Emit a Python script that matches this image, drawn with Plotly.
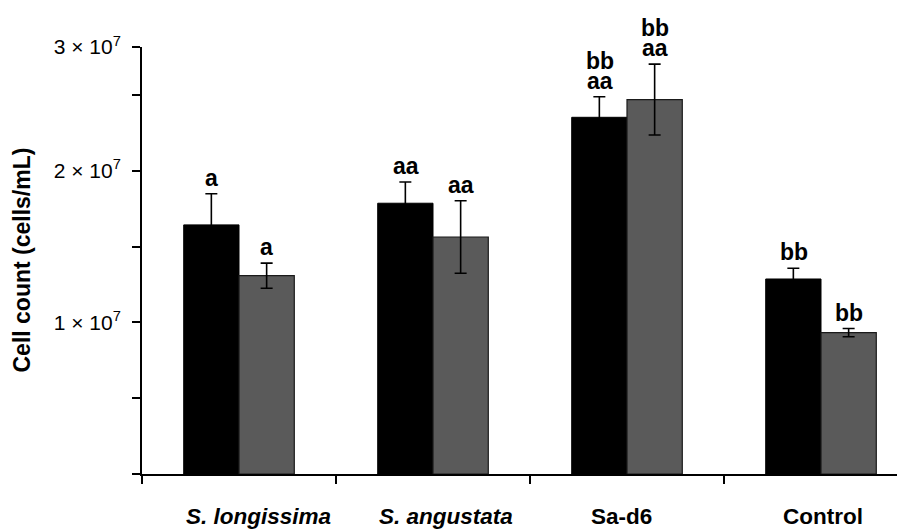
import plotly.graph_objects as go

categories = ["S. longissima", "S. angustata", "Sa-d6", "Control"]
cat_labels = ["<i>S. longissima</i>", "<i>S. angustata</i>", "Sa-d6", "Control"]
series1_vals = [16.44e6, 17.87e6, 23.54e6, 12.87e6]
series1_err = [2.06e6, 1.40e6, 1.36e6, 0.71e6]
series2_vals = [13.09e6, 15.64e6, 24.71e6, 9.33e6]
series2_err = [0.83e6, 2.39e6, 2.34e6, 0.27e6]
series1_marks = [["a"], ["aa"], ["aa", "bb"], ["bb"]]
series2_marks = [["a"], ["aa"], ["aa", "bb"], ["bb"]]
y_tickvals = [0, 5e6, 1e7, 1.5e7, 2e7, 2.5e7, 2.818e7]
y_ticktext = ["", "", "1 × 10<sup>7</sup>", "", "2 × 10<sup>7</sup>", "", "3 × 10<sup>7</sup>"]

FONT = "Liberation Sans, Arial, sans-serif"

fig = go.Figure()
fig.add_trace(go.Bar(
    x=categories, y=series1_vals, name="A",
    marker=dict(color="#000000", line=dict(color="#000000", width=1)),
    error_y=dict(type="data", array=series1_err, visible=True, color="#000000", thickness=1.6, width=6),
))
fig.add_trace(go.Bar(
    x=categories, y=series2_vals, name="B",
    marker=dict(color="#5a5a5a", line=dict(color="#1a1a1a", width=1.2)),
    error_y=dict(type="data", array=series2_err, visible=True, color="#000000", thickness=1.6, width=6),
))

annotations = []
group_shift = 27.5
for vals, errs, marks, sh in [(series1_vals, series1_err, series1_marks, -group_shift),
                              (series2_vals, series2_err, series2_marks, group_shift)]:
    for c, v, e, m in zip(categories, vals, errs, marks):
        for k, t in enumerate(m):
            annotations.append(dict(
                x=c, y=v + e, xref="x", yref="y", text="<b>%s</b>" % t,
                showarrow=False, xanchor="center", yanchor="bottom",
                xshift=sh, yshift=1 + 20 * k,
                font=dict(family=FONT, size=23, color="#000000"),
            ))

label_shift = [19, 13, -6, 2]
for c, lab, s in zip(categories, cat_labels, label_shift):
    annotations.append(dict(
        x=c, y=0, xref="x", yref="paper", text="<b>%s</b>" % lab,
        showarrow=False, xanchor="center", yanchor="middle",
        xshift=s, yshift=-42,
        font=dict(family=FONT, size=22.5, color="#000000"),
    ))

annotations.append(dict(
    x=0, y=0.5, xref="paper", yref="paper", text="<b>Cell count (cells/mL)</b>",
    showarrow=False, textangle=-90, xanchor="center", yanchor="middle",
    xshift=-121, font=dict(family=FONT, size=23, color="#000000"),
))

# page body has an 8px margin; size/margins compensate so the plot lands where the reference has it
fig.update_layout(
    width=897, height=524,
    margin=dict(l=134, r=0, t=39, b=58, autoexpand=False),
    paper_bgcolor="white", plot_bgcolor="white",
    barmode="group", bargap=0.43, bargroupgap=0,
    showlegend=False,
    annotations=annotations,
    font=dict(family=FONT, color="#000000"),
)
fig.update_xaxes(
    range=[-0.5, 3.433], showline=True, linecolor="#000000", linewidth=2,
    ticks="outside", tickson="boundaries", ticklen=8, tickwidth=1.5, tickcolor="#000000",
    showticklabels=False, showgrid=False, zeroline=False,
)
fig.update_yaxes(
    range=[0, 2.818e7], showline=True, linecolor="#000000", linewidth=2,
    tickmode="array", tickvals=y_tickvals, ticktext=y_ticktext,
    ticks="outside", ticklen=8, tickwidth=1.5, tickcolor="#000000",
    ticklabelstandoff=7,
    tickfont=dict(family=FONT, size=21, color="#000000"),
    showgrid=False, zeroline=False,
)

fig.write_html("out.html")
